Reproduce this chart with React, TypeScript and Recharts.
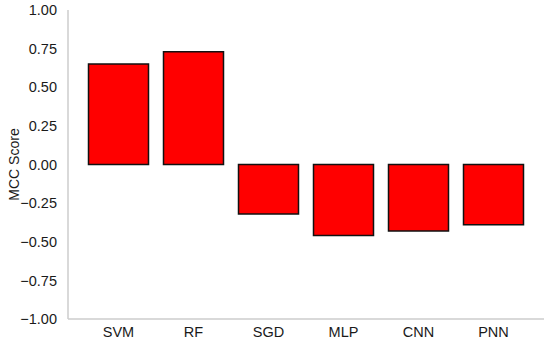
import { BarChart, Bar, XAxis, YAxis } from 'recharts';

const models = ['SVM', 'RF', 'SGD', 'MLP', 'CNN', 'PNN'];
const mccScores = [0.65, 0.73, -0.32, -0.46, -0.43, -0.39];
const yTicks = [-1, -0.75, -0.5, -0.25, 0, 0.25, 0.5, 0.75, 1];

const FONT = 'Liberation Sans, Arial, sans-serif';

export default function App() {
  const data = models.map((m, i) => ({ name: m, mcc: mccScores[i] }));
  const tick = { fill: '#1a1a1a', fontSize: 14.5, fontFamily: FONT };

  return (
    <div style={{ position: 'absolute', left: 0, top: 0, width: 550, height: 342, background: '#fff' }}>
      <BarChart
        width={550}
        height={342}
        data={data}
        margin={{ top: 10, right: 6, bottom: 0, left: 0 }}
        barCategoryGap="10%"
      >
        <XAxis
          xAxisId="bottom"
          dataKey="name"
          height={23}
          padding={{ left: 13, right: 13 }}
          tickLine={false}
          axisLine={{ stroke: '#ccc', strokeWidth: 1.5 }}
          tick={tick}
          tickMargin={2}
        />
        <XAxis xAxisId="top" orientation="top" dataKey="name" height={0} tick={false} tickLine={false} axisLine={{ stroke: '#ccc', strokeWidth: 1.5 }} />
        <YAxis
          yAxisId="left"
          width={68}
          domain={[-1, 1]}
          ticks={yTicks}
          tickFormatter={(v: number) => v.toFixed(2).replace('-', '\u2212')}
          tickLine={false}
          axisLine={{ stroke: '#ccc', strokeWidth: 1.5 }}
          tick={tick}
          tickMargin={5}
          label={{ value: 'MCC Score', angle: -90, position: 'insideLeft', offset: 14, style: { fill: '#1a1a1a', fontSize: 14, fontFamily: FONT, textAnchor: 'middle' } }}
        />
        <YAxis yAxisId="right" orientation="right" width={0} domain={[-1, 1]} tick={false} tickLine={false} axisLine={{ stroke: '#ccc', strokeWidth: 1.5 }} />
        <Bar
          xAxisId="bottom"
          yAxisId="left"
          dataKey="mcc"
          fill="#ff0000"
          stroke="#111"
          strokeWidth={1.5}
          isAnimationActive={false}
        />
      </BarChart>
    </div>
  );
}
